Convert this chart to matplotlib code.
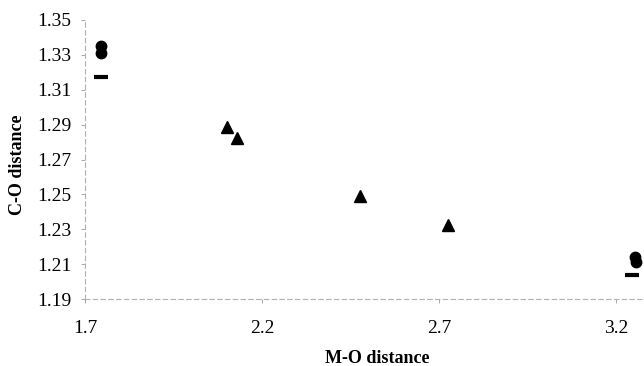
import matplotlib
matplotlib.use("Agg")
import matplotlib.pyplot as plt

# Data
circ_x = [1.745, 1.745, 3.254, 3.256]
circ_y = [1.335, 1.331, 1.214, 1.211]
dash_x = [1.745, 3.246]
dash_y = [1.3175, 1.2035]
tri_x = [2.10, 2.13, 2.477, 2.725]
tri_y = [1.2887, 1.2824, 1.2491, 1.2325]

x_ticks = [1.7, 2.2, 2.7, 3.2]
y_ticks = [1.19, 1.21, 1.23, 1.25, 1.27, 1.29, 1.31, 1.33, 1.35]

plt.rcParams['font.family'] = ['Liberation Serif', 'DejaVu Serif']

fig = plt.figure(figsize=(6.44, 3.66), dpi=100)
ax = fig.add_axes([85 / 644, 67 / 366, 557 / 644, 279 / 366])

ax.plot(tri_x, tri_y, linestyle='none', marker='^', markersize=8.5, color='black')
ax.plot(circ_x, circ_y, linestyle='none', marker='o', markersize=7.5, color='black')
ax.plot(dash_x, dash_y, linestyle='none', marker='_', markersize=10, markeredgewidth=3, color='black')

ax.set_xlim(1.7, 1.7 + 557 / 354)
ax.set_ylim(1.19, 1.35)
ax.set_xticks(x_ticks)
ax.set_xticklabels([f"{v:.1f}" for v in x_ticks])
ax.set_yticks(y_ticks)
ax.set_yticklabels([f"{v:.2f}" for v in y_ticks])

for s in ['top', 'right']:
    ax.spines[s].set_visible(False)
for s in ['left', 'bottom']:
    ax.spines[s].set_color('#b0b0b0')
    ax.spines[s].set_linewidth(0.8)
    ax.spines[s].set_linestyle((0, (4, 3)))

ax.tick_params(axis='both', labelsize=14, colors='#9a9a9a', length=3, width=0.6, labelcolor='black')
ax.tick_params(axis='y', pad=7)
ax.tick_params(axis='x', pad=12)

ax.set_xlabel('M-O distance', fontsize=13, fontweight='bold')
ax.set_ylabel('C-O distance', fontsize=13, fontweight='bold')
ax.xaxis.set_label_coords((377 - 85) / 557, -(350 - 299) / 279)
ax.yaxis.set_label_coords((26 - 85) / 557, 0.48)

fig.savefig('out.png', dpi=100)
